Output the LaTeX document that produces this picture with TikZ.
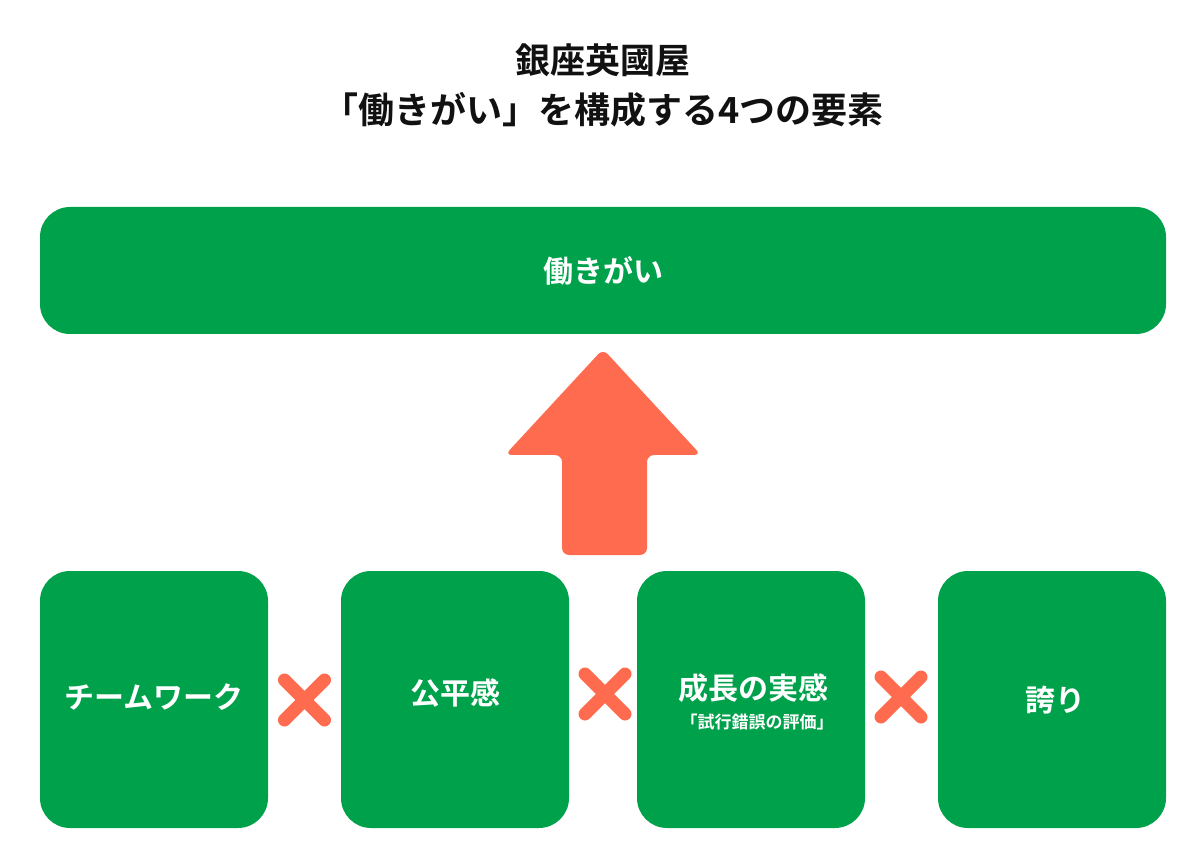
\documentclass[tikz,border=0pt]{standalone}
\usepackage{fontspec}
\setmainfont{Noto Sans CJK JP}[BoldFont={* Bold}]
\definecolor{boxgreen}{HTML}{00A14B}
\definecolor{accent}{HTML}{FF6B4F}
\definecolor{titletext}{HTML}{111111}
\tikzset{
  gbox/.style={fill=boxgreen, draw=none, rounded corners=30pt, text=white, font=\bfseries\fontsize{30}{36}\selectfont, inner sep=0pt},
  crossmark/.style={draw=accent, line width=13pt, line cap=round},
}
\begin{document}
\begin{tikzpicture}[x=1pt,y=-1pt]
\useasboundingbox[fill=white] (0,0) rectangle (1200,858);
% title
\node[font=\bfseries\fontsize{35}{40}\selectfont, text=titletext] (t1) at (603,60) {銀座英國屋};
\node[font=\bfseries\fontsize{36}{42}\selectfont, text=titletext] (t2) at (603,110) {「働きがい」を構成する4つの要素};
% top box
\node[gbox, minimum width=1126pt, minimum height=127pt] (top) at (603,270.5) {働きがい};
% arrow
\fill[accent, rounded corners=7pt] (562,555) -- (562,455) -- (505,455) -- (603,349) -- (701,455) -- (647,455) -- (647,555) -- cycle;
% bottom boxes
\node[gbox, minimum width=228pt, minimum height=257pt] (b1) at (154,699.5) {};
\node[font=\bfseries\fontsize{30}{36}\selectfont, text=white] (l1) at (154,697) {チームワーク};
\node[gbox, minimum width=228pt, minimum height=257pt] (b2) at (455,699.5) {};
\node[font=\bfseries\fontsize{30}{36}\selectfont, text=white] (l2) at (455,693) {公平感};
\node[gbox, minimum width=228pt, minimum height=257pt] (b3) at (751,699.5) {};
\node[font=\bfseries\fontsize{30}{36}\selectfont, text=white] (l3) at (753,688) {成長の実感};
\node[font=\bfseries\fontsize{17}{20}\selectfont, text=white] (l3b) at (757,722) {「試行錯誤の評価」};
\node[gbox, minimum width=228pt, minimum height=257pt] (b4) at (1052,699.5) {};
\node[font=\bfseries\fontsize{30}{36}\selectfont, text=white] (l4) at (1055,700) {誇り};
% cross marks
\coordinate (x1) at (304.5,700);
\coordinate (x2) at (605,694);
\coordinate (x3) at (901,697);
\foreach \c in {x1,x2,x3}{
  \draw[crossmark] ([shift={(-20,-20)}]\c) -- ([shift={(20,20)}]\c);
  \draw[crossmark] ([shift={(-20,20)}]\c) -- ([shift={(20,-20)}]\c);
}
\end{tikzpicture}
\end{document}
